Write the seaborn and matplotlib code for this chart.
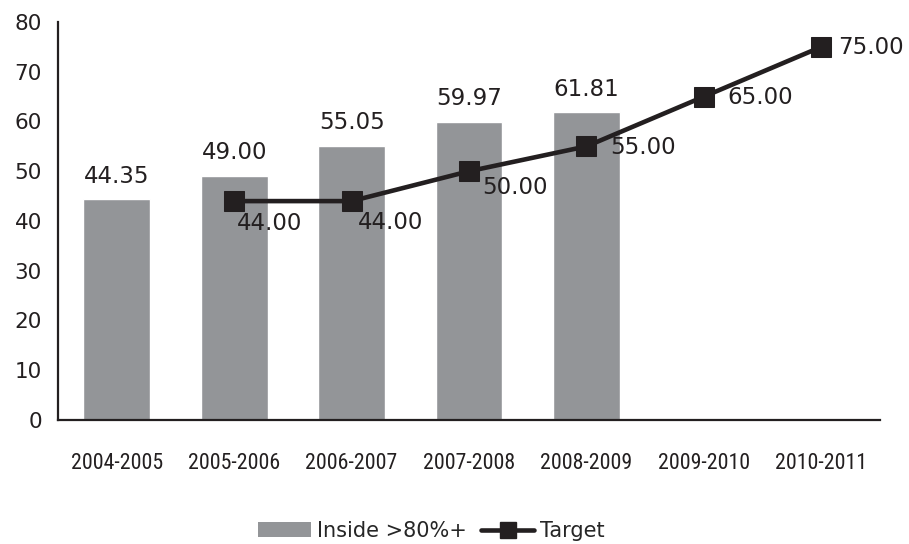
import matplotlib
matplotlib.use('Agg')
import matplotlib.pyplot as plt
import pandas as pd
import seaborn as sns
from matplotlib import font_manager as fm
from matplotlib.lines import Line2D
from matplotlib.patches import Patch

years = ['2004-2005', '2005-2006', '2006-2007', '2007-2008',
         '2008-2009', '2009-2010', '2010-2011']
inside_years = ['2004-2005', '2005-2006', '2006-2007', '2007-2008', '2008-2009']
inside_vals = [44.35, 49.00, 55.05, 59.97, 61.81]
target_years = ['2005-2006', '2006-2007', '2007-2008', '2008-2009', '2009-2010', '2010-2011']
target_vals = [44.00, 44.00, 50.00, 55.00, 65.00, 75.00]

# where each target label sits relative to its marker (px right, px down)
target_offsets = [(3, 22), (6, 21), (13, 16), (24, 1), (24, 1), (17, 1)]

BAR_COLOR = '#939598'
DARK = '#231f20'

sns.set_style('white')
plt.rcParams['font.family'] = ['DejaVu Sans']


def pick_narrow_font():
    # the year labels use a condensed face; take one if the system has it
    fonts = fm.fontManager.ttflist
    for pref in ['Liberation Sans Narrow', 'Arial Narrow', 'Roboto Condensed',
                 'Open Sans Condensed', 'Noto Sans Condensed', 'DejaVu Sans Condensed']:
        for f in fonts:
            if f.name == pref and f.style == 'normal' and f.weight in (400, 'normal', 'regular'):
                return fm.FontProperties(fname=f.fname)
    for f in fonts:
        if f.stretch in ('condensed', 'semi-condensed') and f.style == 'normal' \
                and f.weight in (400, 'normal', 'regular'):
            return fm.FontProperties(fname=f.fname)
    return fm.FontProperties(family='DejaVu Sans')


bars = pd.DataFrame({'year': inside_years, 'value': inside_vals})

fig = plt.figure(figsize=(9.09, 5.44), dpi=100)
ax = fig.add_axes([58 / 909, 124 / 544, 822 / 909, 398 / 544])

sns.barplot(data=bars, x='year', y='value', order=years, color=BAR_COLOR,
            saturation=1, width=0.57, ax=ax)

xpos = [years.index(y) for y in target_years]
sns.lineplot(x=xpos, y=target_vals, color=DARK, lw=3.3, marker='s',
             markersize=14.4, markeredgecolor=DARK, ax=ax)

for yr, v in zip(inside_years, inside_vals):
    ax.annotate(f'{v:.2f}', (years.index(yr), v), xytext=(0, 8.5),
                textcoords='offset points', ha='center', va='bottom',
                fontsize=16.5, color=DARK)

for x, v, (dx, dy) in zip(xpos, target_vals, target_offsets):
    ax.annotate(f'{v:.2f}', (x, v), xytext=(dx * 0.72, -dy * 0.72),
                textcoords='offset points', ha='left', va='center',
                fontsize=16.5, color=DARK)

ax.set_xlim(-0.5, 6.5)
ax.set_ylim(0, 80)
ax.set_yticks(range(0, 81, 10))
ax.set_xlabel('')
ax.set_ylabel('')
ax.tick_params(axis='y', labelsize=15.5, length=0, pad=11.5, colors=DARK)
ax.tick_params(axis='x', length=0, pad=24, colors=DARK)

narrow = pick_narrow_font()
for lbl in ax.get_xticklabels():
    lbl.set_fontproperties(narrow)
    lbl.set_fontsize(15)

# size the year labels so that each is about 92 px wide
fig.canvas.draw()
w = ax.get_xticklabels()[0].get_window_extent().width
size = 15 * 92 / w
for lbl in ax.get_xticklabels():
    lbl.set_fontsize(size)

sns.despine(ax=ax)
for side in ['left', 'bottom']:
    ax.spines[side].set_color(DARK)
    ax.spines[side].set_linewidth(1.6)

handles = [Patch(facecolor=BAR_COLOR, edgecolor='none'),
           Line2D([], [], color=DARK, lw=3.3, marker='s', markersize=12)]
fig.legend(handles, ['Inside >80%+', 'Target'], loc='center',
           bbox_to_anchor=(431.5 / 909, 1 - 531 / 544), ncol=2, frameon=False,
           fontsize=15, handlelength=2.55, handletextpad=0.3, columnspacing=0.67,
           borderpad=0)

fig.savefig('out.png', dpi=100)
